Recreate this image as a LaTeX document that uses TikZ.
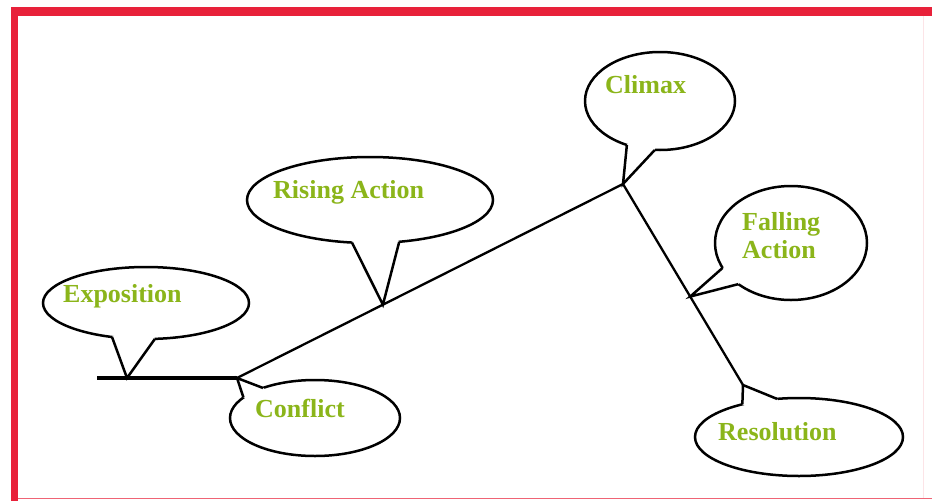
\documentclass[tikz,border=0pt]{standalone}
\usepackage{fontspec}
\setmainfont{Liberation Serif}
\usetikzlibrary{shapes.geometric,calc}
\definecolor{framered}{HTML}{E8213A}
\definecolor{labelgreen}{HTML}{8BB51A}
\begin{document}
\begin{tikzpicture}[x=1pt,y=-1pt,
  bubble/.style={ellipse, draw=black, fill=white, line width=2.5pt, inner sep=0pt, outer sep=0pt},
  tailside/.style={line width=2.5pt, line join=miter},
  plotline/.style={line width=2.3pt},
  lbl/.style={font=\bfseries\fontsize{26}{28}\selectfont, text=labelgreen, inner sep=0pt, anchor=base west}
]
\useasboundingbox (0,0) rectangle (932,501);
\fill[white] (0,0) rectangle (932,501);
% frame
\fill[framered] (11,7) rectangle (932,16);
\fill[framered] (11,7) rectangle (18,501);
\draw[framered!70, line width=1.5pt] (18,498.5) -- (932,498.5);
\draw[framered!12, line width=1pt] (923,16) -- (923,497.5);
% plot coordinates
\coordinate (a) at (97,378);
\coordinate (b) at (237,378);
\coordinate (c) at (623,184);
\coordinate (d) at (743,385);
\coordinate (exptip) at (127,378);
\coordinate (ristip) at ($(b)!0.378!(c)$);
\coordinate (faltip) at ($(c)!0.56!(d)$);
% bubbles: ellipse, white fill of the tail (reaching the centre), tail sides
\node[bubble, minimum width=206pt, minimum height=72pt] (exp) at (146,303) {};
\fill[white] (exp.center) -- (exp.225) -- (exptip) -- (exp.284) -- cycle;
\draw[tailside] (exp.225) -- (exptip) -- (exp.284);
\node[bubble, minimum width=170pt, minimum height=76pt] (con) at (315,418) {};
\fill[white] (con.center) -- (con.164) -- (b) -- (con.150) -- cycle;
\draw[tailside] (con.164) -- (b) -- (con.150);
\node[bubble, minimum width=246pt, minimum height=86pt] (ris) at (370,200) {};
\fill[white] (ris.center) -- (ris.247) -- (ristip) -- (ris.305) -- cycle;
\draw[tailside] (ris.247) -- (ristip) -- (ris.305);
\node[bubble, minimum width=150pt, minimum height=98pt] (cli) at (660,101) {};
\fill[white] (cli.center) -- (cli.233) -- (c) -- (cli.264) -- cycle;
\draw[tailside] (cli.233) -- (c) -- (cli.264);
\node[bubble, minimum width=152pt, minimum height=114pt] (fal) at (791,243) {};
\fill[white] (fal.center) -- (fal.200) -- (faltip) -- (fal.218) -- cycle;
\draw[tailside] (fal.200) -- (faltip) -- (fal.218);
\node[bubble, minimum width=208pt, minimum height=78pt] (res) at (799,437) {};
\fill[white] (res.center) -- (res.150) -- (d) -- (res.120) -- cycle;
\draw[tailside] (res.150) -- (d) -- (res.120);
% plot lines
\draw[line width=4pt] (a) -- (b);
\draw[plotline, line join=round] (b) -- (c) -- (d);
% labels
\node[lbl] (expt) at (63,302) {Exposition};
\node[lbl] (cont) at (255,417) {Conflict};
\node[lbl] (rist) at (273,198) {Rising Action};
\node[lbl] (clit) at (605,93) {Climax};
\node[lbl, align=left] (falt) at (742,258) {Falling\\Action};
\node[lbl] (rest) at (718,440) {Resolution};
\end{tikzpicture}
\end{document}
